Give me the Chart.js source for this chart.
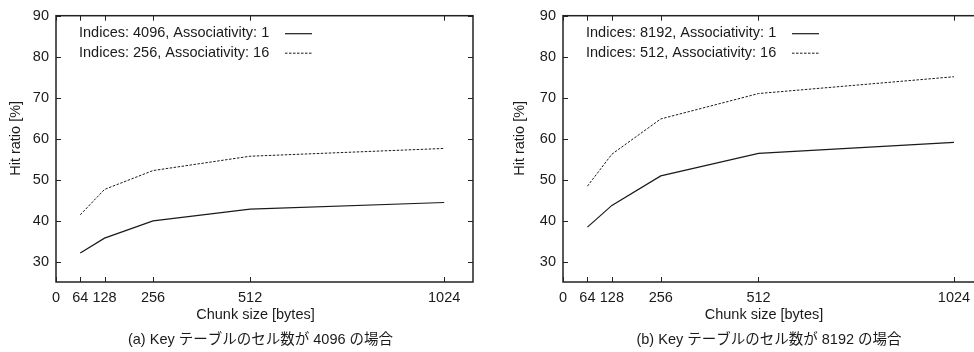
<!DOCTYPE html>
<html><head><meta charset="utf-8">
<script src="https://cdn.jsdelivr.net/npm/chart.js@4/dist/chart.umd.min.js"></script>
<style>
html,body{margin:0;padding:0;background:#fff;overflow:hidden;width:974px;height:352px;}
#wrap{position:relative;width:974px;height:352px;overflow:hidden;}
.c{position:absolute;top:0;height:352px;}
</style></head><body>
<div id="wrap">
<div class="c" style="left:0;width:487px"><canvas id="ca"></canvas></div>
<div class="c" style="left:487px;width:510px"><canvas id="cb"></canvas></div>
</div>
<script>
const chunkSizes = [64, 128, 256, 512, 1024];
const xTickValues = [0, 64, 128, 256, 512, 1024];
const yTickValues = [30, 40, 50, 60, 70, 80, 90];
const hitA_direct = [32.1, 35.7, 39.9, 42.8, 44.4];
const hitA_assoc = [41.4, 47.6, 52.2, 55.7, 57.6];
const hitB_direct = [38.4, 43.7, 50.9, 56.4, 59.1];
const hitB_assoc = [48.4, 56.2, 64.8, 71.0, 75.1];
const labelsA = ['Indices: 4096, Associativity: 1', 'Indices: 256, Associativity: 16'];
const labelsB = ['Indices: 8192, Associativity: 1', 'Indices: 512, Associativity: 16'];
const captionA = '(a) Key テーブルのセル数が 4096 の場合';
const captionB = '(b) Key テーブルのセル数が 8192 の場合';
const xTitle = 'Chunk size [bytes]';
const yTitle = 'Hit ratio [%]';

const FONT = '"Liberation Sans", Arial, Helvetica, "Noto Sans CJK JP", sans-serif';
const FS = 14.5;
const INK = '#1a1a1a';

function makeChart(id, direct, assoc, labels, caption, yAxisW, yTitleDx) {
  const framePlugin = {
    id: 'frame',
    afterDraw(chart) {
      const ctx = chart.ctx;
      const a = chart.chartArea;
      const xs = chart.scales.x, ys = chart.scales.y;
      ctx.save();
      ctx.strokeStyle = '#222';
      ctx.lineWidth = 1.5;
      ctx.strokeRect(a.left, a.top, a.right - a.left, a.bottom - a.top);
      ctx.lineWidth = 1;
      ctx.beginPath();
      const TL = 5;
      xs.ticks.forEach(t => {
        const px = Math.round(xs.getPixelForValue(t.value)) + 0.5;
        ctx.moveTo(px, a.bottom); ctx.lineTo(px, a.bottom - TL);
        ctx.moveTo(px, a.top); ctx.lineTo(px, a.top + TL);
      });
      ys.ticks.forEach(t => {
        const py = Math.round(ys.getPixelForValue(t.value)) + 0.5;
        ctx.moveTo(a.left, py); ctx.lineTo(a.left + TL, py);
        ctx.moveTo(a.right, py); ctx.lineTo(a.right - TL, py);
      });
      ctx.stroke();
      // legend
      ctx.font = FS + 'px ' + FONT;
      ctx.fillStyle = INK;
      ctx.textBaseline = 'middle';
      ctx.textAlign = 'left';
      const rows = [a.top + 17.5, a.top + 37];
      chart.data.datasets.forEach((ds, i) => {
        ctx.fillText(ds.label, a.left + 23, rows[i]);
        ctx.save();
        ctx.strokeStyle = ds.borderColor;
        ctx.lineWidth = ds.borderWidth;
        ctx.setLineDash(ds.borderDash || []);
        ctx.beginPath();
        ctx.moveTo(a.left + 229, rows[i] + 0.5);
        ctx.lineTo(a.left + 256, rows[i] + 0.5);
        ctx.stroke();
        ctx.restore();
      });
      // titles
      const cx = (a.left + a.right) / 2;
      ctx.textAlign = 'center';
      ctx.fillText(xTitle, cx - 9, 315);
      ctx.fillText(caption, cx - 4, 340);
      ctx.save();
      ctx.translate(a.left - yTitleDx, (a.top + a.bottom) / 2 - 10.5);
      ctx.rotate(-Math.PI / 2);
      ctx.fillText(yTitle, 0, 0);
      ctx.restore();
      ctx.restore();
    }
  };
  return new Chart(document.getElementById(id), {
    type: 'line',
    data: {
      datasets: [
        { label: labels[0], data: chunkSizes.map((x, i) => ({ x, y: direct[i] })),
          borderColor: INK, borderWidth: 1.2, pointRadius: 0, fill: false, tension: 0 },
        { label: labels[1], data: chunkSizes.map((x, i) => ({ x, y: assoc[i] })),
          borderColor: INK, borderWidth: 1, borderDash: [2.5, 1.5], pointRadius: 0, fill: false, tension: 0 }
      ]
    },
    options: {
      responsive: true,
      maintainAspectRatio: false,
      animation: false,
      events: [],
      layout: { padding: { left: 0, right: 14, top: 11, bottom: 0 } },
      plugins: { legend: { display: false }, tooltip: { enabled: false }, title: { display: false } },
      scales: {
        x: {
          type: 'linear', min: 0, max: 1100,
          afterBuildTicks: s => { s.ticks = xTickValues.map(v => ({ value: v })); },
          afterFit: s => { s.height = 70; },
          grid: { display: false, drawTicks: false },
          border: { display: false },
          ticks: { color: INK, font: { family: FONT, size: FS }, padding: 7, maxRotation: 0, autoSkip: false,
                   callback: v => String(v) },
          title: { display: false, text: xTitle }
        },
        y: {
          type: 'linear', min: 25, max: 90,
          afterBuildTicks: s => { s.ticks = yTickValues.map(v => ({ value: v })); },
          afterFit: s => { s.width = yAxisW; },
          grid: { display: false, drawTicks: false },
          border: { display: false },
          ticks: { color: INK, font: { family: FONT, size: FS }, padding: 7, callback: v => String(v) },
          title: { display: false, text: yTitle }
        }
      }
    },
    plugins: [framePlugin]
  });
}
makeChart('ca', hitA_direct, hitA_assoc, labelsA, captionA, 56, 40);
makeChart('cb', hitB_direct, hitB_assoc, labelsB, captionB, 76, 43);
</script>
</body></html>
